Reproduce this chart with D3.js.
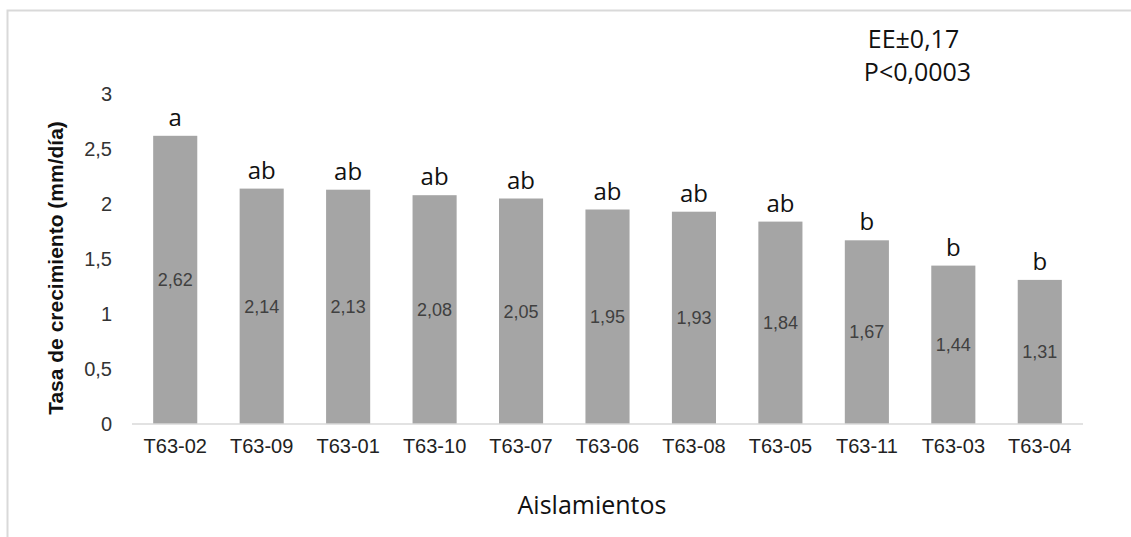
<!DOCTYPE html>
<html><head><meta charset="utf-8">
<script src="https://cdn.jsdelivr.net/npm/d3@7"></script>
<style>body{margin:0;background:#fff;}svg{display:block;}</style>
</head><body>
<svg id="chart" width="1131" height="537"></svg>
<script>
const categories = ["T63-02","T63-09","T63-01","T63-10","T63-07","T63-06","T63-08","T63-05","T63-11","T63-03","T63-04"];
const values = [2.62,2.14,2.13,2.08,2.05,1.95,1.93,1.84,1.67,1.44,1.31];
const letters = ["a","ab","ab","ab","ab","ab","ab","ab","b","b","b"];
const yTicks = [0,0.5,1,1.5,2,2.5,3];
const yTitle = "Tasa de crecimiento (mm/día)";
const xTitle = "Aislamientos";
const notes = ["EE±0,17","P<0,0003"];

const svg = d3.select("#chart");
const fmt = v => String(v).replace(".", ",");

// outer border
svg.append("rect").attr("x",7.5).attr("y",10.5).attr("width",1140).attr("height",540)
  .attr("fill","none").attr("stroke","#d9d9d9").attr("stroke-width",2);

const x = d3.scaleBand().domain(categories).range([132,1083]).paddingInner(0.49).paddingOuter(0.245);
const y = d3.scaleLinear().domain([0,3]).range([424,94]);

// bars
svg.append("g").selectAll("rect").data(values).join("rect")
  .attr("x",(d,i)=>x(categories[i])).attr("width",x.bandwidth())
  .attr("y",d=>y(d)).attr("height",d=>y(0)-y(d)).attr("fill","#a5a5a5");

// baseline
svg.append("line").attr("x1",132).attr("x2",1083).attr("y1",y(0)).attr("y2",y(0))
  .attr("stroke","#d9d9d9").attr("stroke-width",1.5);

// y axis labels
const yAxis = d3.axisLeft(y).tickValues(yTicks).tickFormat(fmt).tickSize(0).tickPadding(0);
const gy = svg.append("g").attr("transform","translate(112,0)").call(yAxis);
gy.select(".domain").remove();
gy.selectAll("text").attr("font-family","Liberation Sans, Arial, sans-serif").attr("font-size",20).attr("fill","#333");

// x axis labels
const xAxis = d3.axisBottom(x).tickSize(0).tickPadding(0);
const gx = svg.append("g").attr("transform",`translate(0,${y(0)+15})`).call(xAxis);
gx.select(".domain").remove();
gx.selectAll("text").attr("font-family","Liberation Sans, Arial, sans-serif").attr("font-size",20).attr("fill","#222");

// value labels
svg.append("g").selectAll("text").data(values).join("text")
  .attr("x",(d,i)=>x(categories[i])+x.bandwidth()/2)
  .attr("y",d=>(y(d)+y(0))/2).attr("dy","0.35em")
  .attr("text-anchor","middle").attr("font-family","Liberation Sans, Arial, sans-serif")
  .attr("font-size",18).attr("fill","#404040").text(d=>fmt(d));

// letters
svg.append("g").selectAll("text").data(values).join("text")
  .attr("x",(d,i)=>x(categories[i])+x.bandwidth()/2)
  .attr("y",d=>y(d)-10)
  .attr("text-anchor","middle").attr("font-family","Open Sans, sans-serif")
  .attr("font-size",24).attr("fill","#111").text((d,i)=>letters[i]);

// y title
svg.append("text").attr("transform","translate(63,268) rotate(-90)")
  .attr("text-anchor","middle").attr("font-family","Liberation Sans, Arial, sans-serif")
  .attr("font-size",21).attr("font-weight","bold").attr("fill","#111").text(yTitle);

// x title
svg.append("text").attr("x",592).attr("y",514).attr("text-anchor","middle")
  .attr("font-family","Open Sans, sans-serif").attr("font-size",25).attr("fill","#111").text(xTitle);

// notes
svg.append("g").selectAll("text").data(notes).join("text")
  .attr("x",(d,i)=>i===0?913.5:917.5).attr("y",(d,i)=>48+i*33).attr("text-anchor","middle")
  .attr("font-family","Open Sans, sans-serif").attr("font-size",25).attr("fill","#111").text(d=>d);
</script>
</body></html>
